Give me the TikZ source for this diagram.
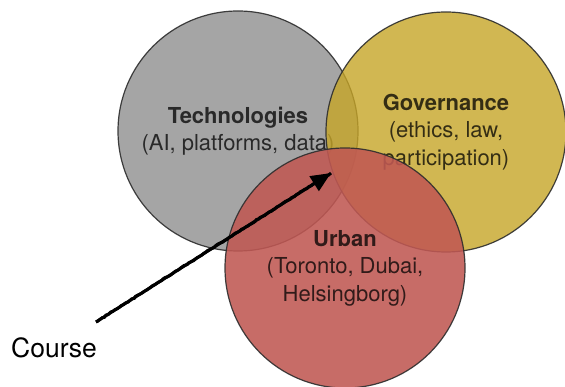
\documentclass[tikz,border=0pt]{standalone}
\usepackage{fontspec}
\setmainfont{TeX Gyre Heros}
\usetikzlibrary{arrows.meta,decorations.pathmorphing}
\definecolor{techgray}{RGB}{150,150,150}
\definecolor{govyellow}{RGB}{198,165,39}
\definecolor{urbred}{RGB}{192,88,83}
\definecolor{edgegray}{RGB}{45,45,45}
\tikzset{
  venn/.style={circle, minimum size=240pt, inner sep=0pt, draw=edgegray, line width=1.2pt,
    align=center, font=\fontsize{22}{27.5}\selectfont, text=black, text opacity=0.75},
  pointer/.style={line width=3pt, -{Triangle[length=20pt,width=17pt]}},
  rough/.style={line width=3pt, decorate, decoration={random steps, segment length=2.5pt, amplitude=0.6pt}},
  label/.style={font=\fontsize{26.5}{30}\selectfont, text=black, inner sep=0pt}
}
\begin{document}
\begin{tikzpicture}[x=1pt,y=-1pt]
\useasboundingbox[fill=white] (0,0) rectangle (565,387);
\node[venn, fill=techgray, fill opacity=0.85, draw opacity=0.9] (tech) at (238,131)
  {\textbf{Technologies}\\(AI, platforms, data)};
\node[venn, fill=govyellow, fill opacity=0.8, draw opacity=0.9] (gov) at (446,132)
  {\textbf{Governance}\\(ethics, law,\\participation)};
\node[venn, fill=urbred, fill opacity=0.88, draw opacity=0.9] (urb) at (345,268)
  {\textbf{Urban}\\(Toronto, Dubai,\\Helsingborg)};
\node[label, anchor=base west] (course) at (11,357) {Course};
\coordinate (cstart) at (96,322);
\coordinate (ctip) at (331,173);
\draw[rough] (cstart) -- (ctip);
\draw[pointer] (cstart) -- (ctip);
\end{tikzpicture}
\end{document}
